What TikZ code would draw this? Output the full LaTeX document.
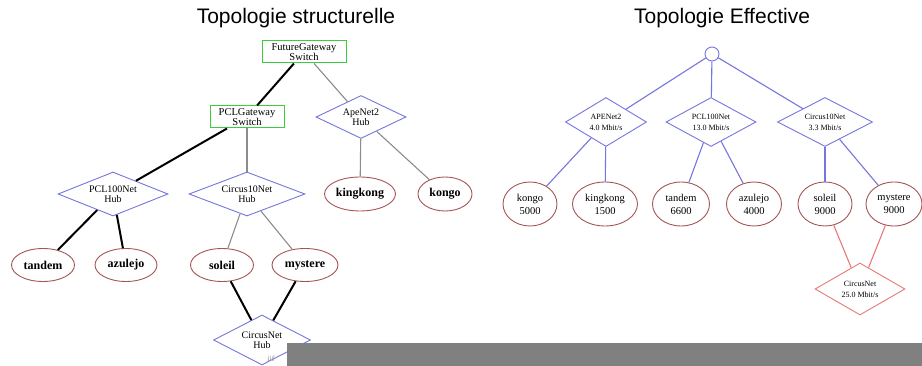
\documentclass[tikz,border=0pt]{standalone}
\usepackage{fontspec}
\setmainfont{Liberation Serif}
\newfontfamily\titlefont{Liberation Sans}
\usetikzlibrary{shapes.geometric}
\definecolor{hubblue}{RGB}{118,118,222}
\definecolor{hostred}{RGB}{165,85,85}
\definecolor{swgreen}{RGB}{60,205,60}
\definecolor{linkgray}{RGB}{140,140,140}
\definecolor{linkred}{RGB}{232,120,120}
\definecolor{bargray}{RGB}{128,128,128}
\tikzset{
  every node/.style={align=center, inner sep=0pt},
  heading/.style={font=\titlefont\fontsize{21}{21}\selectfont},
  switchbox/.style={draw=swgreen, line width=1pt, minimum height=22pt,
    font=\fontsize{10.5}{9.5}\selectfont},
  hubdia/.style={shape=diamond, draw=hubblue, line width=0.9pt, aspect=2.4,
    font=\fontsize{10}{10}\selectfont},
  netdia/.style={shape=diamond, draw=hubblue, line width=0.9pt, aspect=2.4,
    font=\fontsize{8}{11}\selectfont},
  hostL/.style={shape=ellipse, draw=hostred, line width=0.9pt,
    minimum height=34pt, font=\bfseries\fontsize{12}{12}\selectfont},
  hostR/.style={shape=ellipse, draw=hostred, line width=0.9pt,
    minimum height=44pt, font=\fontsize{10.5}{13}\selectfont},
  heavy/.style={draw=black, line width=2pt},
  light/.style={draw=linkgray, line width=1.1pt},
  bluelink/.style={draw=hubblue, line width=1.1pt},
  redlink/.style={draw=linkred, line width=1.1pt},
}
\begin{document}
\begin{tikzpicture}[x=1pt, y=-1pt]
\fill[white] (0,0) rectangle (922,366);
\useasboundingbox (0,0) rectangle (922,366);

% ---------- structural topology ----------
\node[heading] (t1) at (296,18) {Topologie structurelle};

\node[switchbox, minimum width=84pt] (fg) at (304,52) {FutureGateway\\Switch};
\node[switchbox, minimum width=74pt] (pclgw) at (247,117) {PCLGateway\\Switch};
\node[hubdia, minimum width=90pt, minimum height=43pt] (ape) at (361,117) {ApeNet2\\Hub};
\node[hubdia, minimum width=110pt, minimum height=44pt] (pcl) at (113,194) {PCL100Net\\Hub};
\node[hubdia, minimum width=116pt, minimum height=44pt] (cir) at (247,194) {Circus10Net\\Hub};
\node[hostL, minimum width=71pt] (kk) at (360,194) {kingkong};
\node[hostL, minimum width=54pt] (kongo) at (445,194) {kongo};
\node[hostL, minimum width=63pt, minimum height=33pt] (tandem) at (43,265) {tandem};
\node[hostL, minimum width=62pt, minimum height=33pt] (azulejo) at (126,265) {azulejo};
\node[hostL, minimum width=63pt, minimum height=33pt] (soleil) at (222,265) {soleil};
\node[hostL, minimum width=66pt, minimum height=33pt] (mystere) at (305,265) {mystere};
\node[hubdia, minimum width=97pt, minimum height=50pt] (cnet) at (262,340) {CircusNet\\Hub};

\draw[heavy] (fg) -- (pclgw);
\draw[light] (fg) -- (ape);
\draw[heavy] (pclgw) -- (pcl);
\draw[light] (pclgw) -- (cir);
\draw[light] (ape) -- (kk);
\draw[light] (ape) -- (kongo);
\draw[heavy] (pcl) -- (tandem);
\draw[heavy] (pcl) -- (azulejo);
\draw[light] (cir) -- (soleil);
\draw[light] (cir) -- (mystere);
\draw[heavy] (soleil) -- (cnet);
\draw[heavy] (mystere) -- (cnet);

\node[text=linkgray, font=\fontsize{8}{8}\selectfont] (cut) at (271,359) {iif};

% ---------- effective topology ----------
\node[heading] (t2) at (722,18) {Topologie Effective};

\node[shape=circle, draw=hubblue, line width=0.9pt, minimum size=14pt] (root) at (712,54) {};
\node[netdia, minimum width=81pt, minimum height=49pt] (rape) at (606,122) {APENet2\\4.0 Mbit/s};
\node[netdia, minimum width=90pt, minimum height=49pt] (rpcl) at (711,122) {PCL100Net\\13.0 Mbit/s};
\node[netdia, minimum width=95pt, minimum height=49pt] (rcir) at (825,122) {Circus10Net\\3.3 Mbit/s};
\node[hostR, minimum width=54pt] (rkongo) at (530,204) {kongo\\5000};
\node[hostR, minimum width=65pt] (rkk) at (605,204) {kingkong\\1500};
\node[hostR, minimum width=57pt] (rtandem) at (681,204) {tandem\\6600};
\node[hostR, minimum width=55pt] (razulejo) at (754,204) {azulejo\\4000};
\node[hostR, minimum width=54pt] (rsoleil) at (825,204) {soleil\\9000};
\node[hostR, minimum width=56pt] (rmystere) at (894,204) {mystere\\9000};
\node[netdia, draw=linkred, minimum width=90pt, minimum height=52pt] (rcnet) at (860,289) {CircusNet\\25.0 Mbit/s};

\draw[bluelink] (root) -- (rape);
\draw[bluelink] (root) -- (rpcl);
\draw[bluelink] (root) -- (rcir);
\draw[bluelink] (rape) -- (rkongo);
\draw[bluelink] (rape) -- (rkk);
\draw[bluelink] (rpcl) -- (rtandem);
\draw[bluelink] (rpcl) -- (razulejo);
\draw[bluelink] (rcir) -- (rsoleil);
\draw[bluelink] (rcir) -- (rmystere);
\draw[redlink] (rsoleil) -- (rcnet);
\draw[redlink] (rmystere) -- (rcnet);

% grey band along the bottom edge
\fill[bargray] (287,343) rectangle (922,366);
\end{tikzpicture}
\end{document}
